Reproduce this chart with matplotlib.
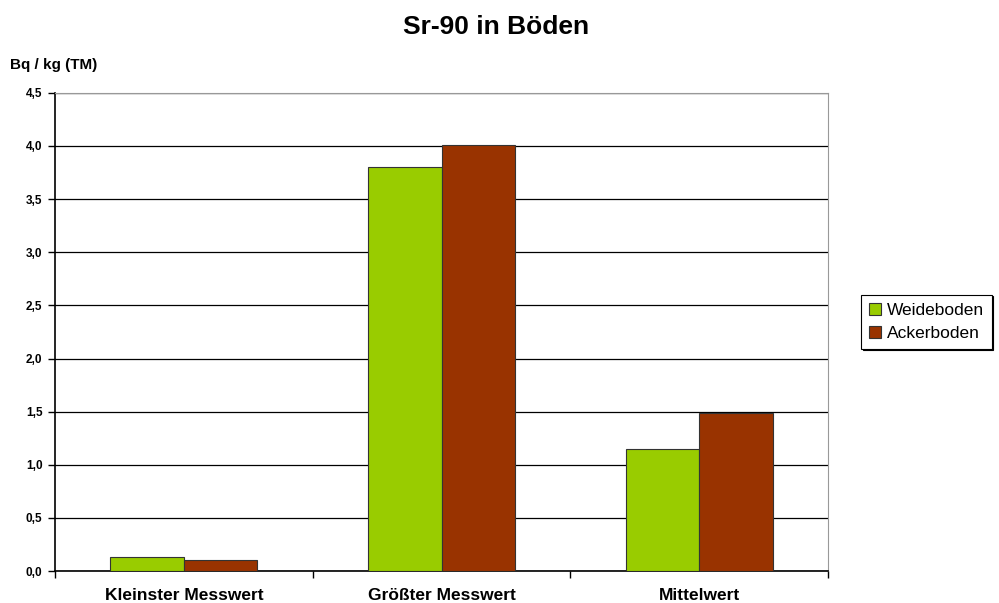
import matplotlib
matplotlib.use('Agg')
import matplotlib.pyplot as plt
import numpy as np

plt.rcParams['font.family'] = ['Liberation Sans', 'DejaVu Sans']

categories = ['Kleinster Messwert', 'Größter Messwert', 'Mittelwert']
weideboden = [0.13, 3.80, 1.15]
ackerboden = [0.10, 4.01, 1.49]
yticks = [0.0, 0.5, 1.0, 1.5, 2.0, 2.5, 3.0, 3.5, 4.0, 4.5]

fig = plt.figure(figsize=(9.99, 6.03), dpi=100)
ax = fig.add_axes([0.055, 0.053, 0.774, 0.793])

x = np.arange(len(categories))
w = 0.285
ax.bar(x - w / 2, weideboden, w, color='#99cc00', edgecolor='#333333', linewidth=0.8,
       label='Weideboden', zorder=3)
ax.bar(x + w / 2, ackerboden, w, color='#993300', edgecolor='#333333', linewidth=0.8,
       label='Ackerboden', zorder=3)

ax.set_xlim(-0.5, 2.5)
ax.set_ylim(0, 4.5)
ax.set_yticks(yticks)
ax.set_yticklabels([('%.1f' % v).replace('.', ',') for v in yticks], fontsize=8.5, fontweight='bold')
ax.yaxis.grid(True, color='black', linewidth=0.9, zorder=0)
ax.set_axisbelow(True)

# category ticks between groups, labels centred
ax.set_xticks([-0.5, 0.5, 1.5, 2.5])
ax.set_xticklabels([])
ax.set_xticks(x, minor=True)
ax.set_xticklabels(categories, minor=True, fontsize=12.5, fontweight='bold')
ax.tick_params(axis='x', which='minor', length=0, pad=12)
ax.tick_params(axis='x', which='major', length=5, width=1, direction='out')
ax.tick_params(axis='y', length=5, width=1, direction='out', pad=4)

for s in ['top', 'right']:
    ax.spines[s].set_color('#999999')
    ax.spines[s].set_linewidth(0.8)
for s in ['left', 'bottom']:
    ax.spines[s].set_color('black')
    ax.spines[s].set_linewidth(1.2)

fig.text(0.497, 0.955, 'Sr-90 in Böden', ha='center', va='center', fontsize=19, fontweight='bold')
fig.text(0.01, 0.893, 'Bq / kg (TM)', ha='left', va='center', fontsize=11, fontweight='bold')

leg = ax.legend(loc='center left', bbox_to_anchor=(1.043, 0.521), fontsize=12.5,
                frameon=True, fancybox=False, shadow={'ox': 1, 'oy': -1, 'color': 'black', 'alpha': 1},
                handlelength=0.7, handleheight=0.7,
                handletextpad=0.3, borderpad=0.45, labelspacing=0.45, borderaxespad=0)
leg.get_frame().set_edgecolor('black')
leg.get_frame().set_linewidth(0.8)

fig.savefig('out.png', dpi=100)
